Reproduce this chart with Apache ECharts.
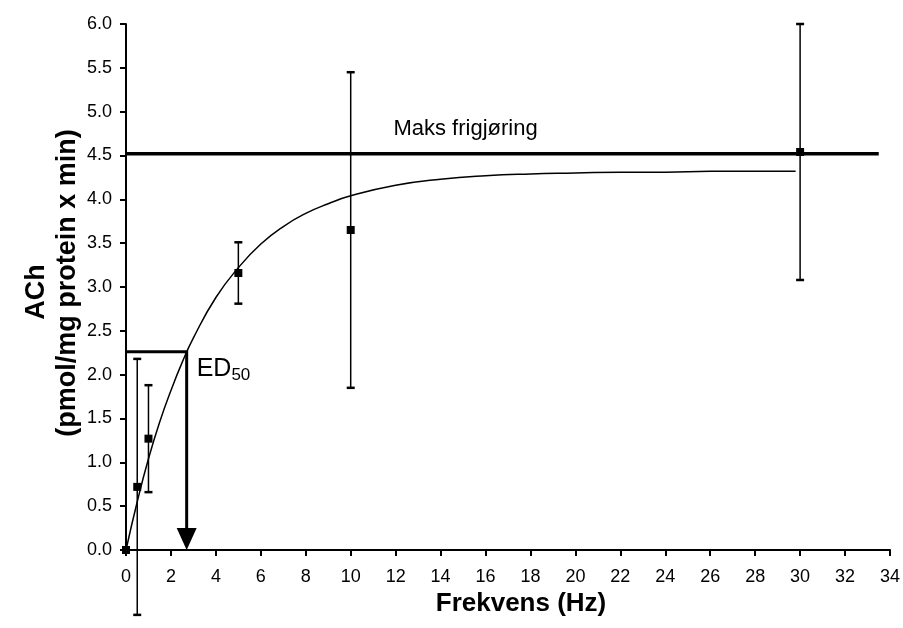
<!DOCTYPE html>
<html>
<head>
<meta charset="utf-8">
<script src="https://cdn.jsdelivr.net/npm/echarts@6/dist/echarts.min.js"></script>
<style>html,body{margin:0;padding:0;background:#fff}#c{width:903px;height:628px}</style>
</head>
<body>
<div id="c"></div>
<script>
// ---- data ----
const freqHz = [0, 0.5, 1, 5, 10, 30];
const achMean = [0, 0.72, 1.27, 3.16, 3.65, 4.54];
const achErr = [0, 1.46, 0.61, 0.35, 1.80, 1.46];
const curveX = [0, 0.5, 1, 1.5, 2, 2.5, 3, 4, 5, 6, 7, 8, 9, 10, 12, 14, 16, 18, 20, 22, 24, 26, 28, 29.8];
const curveY = [0, 0.55, 1.04, 1.46, 1.82, 2.14, 2.42, 2.88, 3.22, 3.49, 3.69, 3.84, 3.95, 4.04, 4.16, 4.23, 4.27, 4.29, 4.30, 4.31, 4.31, 4.32, 4.32, 4.32];
const maxRelease = 4.52;
const maxLineEndHz = 33.5;
const ed50Hz = 2.7;
const ed50Ach = 2.26;
const xTickStep = 2, xMax = 34;
const yTickStep = 0.5, yMax = 6;
const maxLabel = 'Maks frigjøring';
const maxLabelHz = 11.9;
const xTitle = 'Frekvens (Hz)';
const yTitle1 = 'ACh';
const yTitle2 = '(pmol/mg protein x min)';

const chart = echarts.init(document.getElementById('c'), null, {renderer: 'canvas'});
const axisCommon = {
  axisLine: {show: true, onZero: false, lineStyle: {color: '#000', width: 2}},
  axisTick: {show: true, inside: false, length: 6, lineStyle: {color: '#000', width: 2}},
  splitLine: {show: false}
};
const errData = freqHz.map((x, i) => [x, achMean[i], achErr[i]]);

chart.setOption({
  animation: false,
  grid: {left: 126, right: 10, top: 24, bottom: 78, containLabel: false},
  xAxis: Object.assign({
    type: 'value', min: 0, max: xMax, interval: xTickStep,
    axisLabel: {color: '#000', fontSize: 18, margin: 18,
      fontFamily: '"Liberation Sans Narrow", "Arial Narrow", "Liberation Sans", Arial, sans-serif'}
  }, axisCommon),
  yAxis: Object.assign({
    type: 'value', min: 0, max: yMax, interval: yTickStep,
    axisLabel: {color: '#000', fontSize: 18, margin: 14, fontFamily: '"Liberation Sans", Arial, sans-serif',
      formatter: v => v.toFixed(1)}
  }, axisCommon),
  graphic: [
    {type: 'text', x: 521, y: 604, style: {text: xTitle, fill: '#000',
      font: 'bold 26px "Liberation Sans", Arial, sans-serif', textAlign: 'center', textVerticalAlign: 'middle'}},
    {type: 'text', x: 37, y: 292, rotation: Math.PI / 2, style: {text: yTitle1, fill: '#000',
      font: 'bold 27px "Liberation Sans", Arial, sans-serif', textAlign: 'center', textVerticalAlign: 'middle'}},
    {type: 'text', x: 68, y: 283, rotation: Math.PI / 2, style: {text: yTitle2, fill: '#000',
      font: 'bold 27px "Liberation Sans", Arial, sans-serif', textAlign: 'center', textVerticalAlign: 'middle'}}
  ],
  series: [
    {
      type: 'line', data: curveX.map((x, i) => [x, curveY[i]]), smooth: true, showSymbol: false,
      lineStyle: {color: '#000', width: 1.5}, z: 3
    },
    {
      type: 'line', data: [[0, maxRelease], [maxLineEndHz, maxRelease]], showSymbol: false,
      lineStyle: {color: '#000', width: 3.5}, z: 4
    },
    {
      type: 'custom', z: 5, clip: false,
      data: [[maxLabelHz, maxRelease]],
      renderItem: (params, api) => {
        const p = api.coord([api.value(0), api.value(1)]);
        return {type: 'text', x: p[0], y: p[1] - 25, style: {text: maxLabel, fill: '#000',
          font: '22px "Liberation Sans", Arial, sans-serif', textAlign: 'left', textVerticalAlign: 'middle'}};
      }
    },
    {
      type: 'custom', z: 6, clip: false,
      data: [[ed50Hz, ed50Ach]],
      renderItem: (params, api) => {
        const c = api.coord([api.value(0), api.value(1)]);
        const a0 = api.coord([0, api.value(1)]);
        const b = api.coord([api.value(0), 0]);
        const headH = 22, headW = 10;
        return {type: 'group', children: [
          {type: 'polyline', shape: {points: [[a0[0], c[1]], [c[0], c[1]], [c[0], b[1] - headH + 2]]},
            style: {stroke: '#000', lineWidth: 3, fill: null}},
          {type: 'polygon', shape: {points: [[c[0] - headW, b[1] - headH], [c[0] + headW, b[1] - headH], [c[0], b[1]]]},
            style: {fill: '#000'}},
          {type: 'text', x: c[0] + 10, y: c[1] + 17, style: {
            text: '{a|ED}{b|50}', textVerticalAlign: 'middle', textAlign: 'left',
            rich: {a: {fontSize: 25, fontFamily: '"Liberation Sans", Arial, sans-serif', color: '#000'},
                   b: {fontSize: 17, fontFamily: '"Liberation Sans", Arial, sans-serif', color: '#000', padding: [12, 0, 0, 0]}}
          }}
        ]};
      }
    },
    {
      type: 'custom', z: 7, clip: false,
      data: errData,
      renderItem: (params, api) => {
        const x = api.value(0), y = api.value(1), e = api.value(2);
        const p = api.coord([x, y]);
        const hi = api.coord([x, y + e]);
        const lo = api.coord([x, y - e]);
        const cw = 4, s = 4;
        const children = [];
        if (e > 0) {
          children.push({type: 'line', shape: {x1: p[0], y1: hi[1], x2: p[0], y2: lo[1]}, style: {stroke: '#000', lineWidth: 1.5}});
          children.push({type: 'line', shape: {x1: p[0] - cw, y1: hi[1], x2: p[0] + cw, y2: hi[1]}, style: {stroke: '#000', lineWidth: 2.5}});
          children.push({type: 'line', shape: {x1: p[0] - cw, y1: lo[1], x2: p[0] + cw, y2: lo[1]}, style: {stroke: '#000', lineWidth: 2.5}});
        }
        children.push({type: 'rect', shape: {x: p[0] - s, y: p[1] - s, width: 2 * s, height: 2 * s}, style: {fill: '#000'}});
        return {type: 'group', children};
      }
    }
  ]
});
</script>
</body>
</html>
